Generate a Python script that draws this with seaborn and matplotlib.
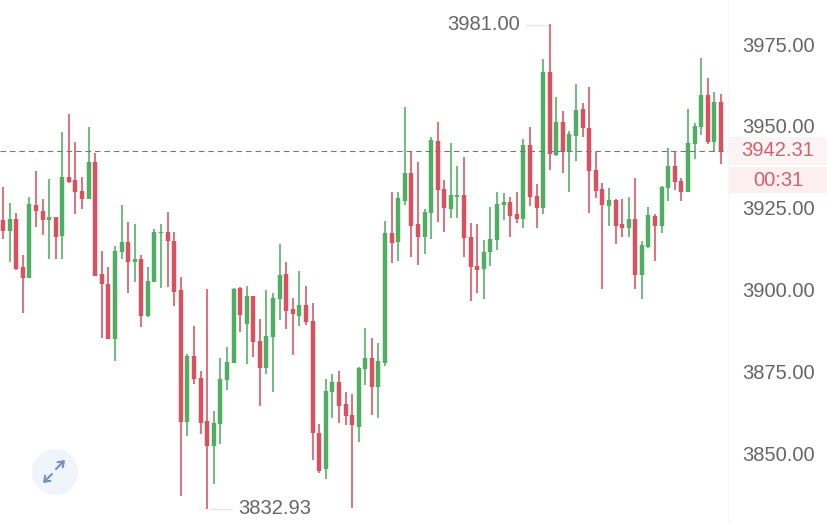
import pandas as pd
import seaborn as sns
import matplotlib.pyplot as plt
from matplotlib.patches import Circle, Rectangle

# prices, one entry per candle
open_prices = [3921.2, 3917.8, 3921.5, 3906.9, 3903.5, 3925.8, 3924.0, 3921.2, 3922.1, 3916.3,
               3934.4, 3933.4, 3930.1, 3927.6, 3938.9, 3904.7, 3901.6, 3884.8, 3911.4, 3914.5,
               3908.4, 3909.3, 3891.9, 3902.3, 3917.2, 3917.6, 3914.8, 3899.8, 3859.5, 3879.6,
               3872.9, 3859.8, 3852.1, 3858.9, 3872.3, 3877.5, 3900.4, 3889.4, 3898.0, 3884.2,
               3875.9, 3885.5, 3897.1, 3904.7, 3894.0, 3891.9, 3895.2, 3890.4, 3856.1, 3845.1,
               3868.6, 3871.7, 3865.0, 3861.6, 3858.0, 3875.7, 3879.0, 3870.2, 3877.5, 3917.2,
               3914.5, 3927.0, 3935.6, 3920.0, 3916.0, 3923.4, 3945.4, 3930.7, 3924.6, 3928.2,
               3928.8, 3916.0, 3907.2, 3906.2, 3911.4, 3915.1, 3925.8, 3926.7, 3923.0, 3921.5,
               3944.1, 3928.5, 3924.9, 3966.4, 3941.1, 3951.2, 3942.0, 3946.9, 3955.1, 3949.3,
               3936.5, 3930.7, 3925.5, 3927.3, 3920.0, 3918.8, 3921.5, 3904.4, 3913.0, 3922.4,
               3919.4, 3931.0, 3937.7, 3933.1, 3929.8, 3944.4, 3949.6, 3959.4, 3945.0, 3957.3]
close_prices = [3917.8, 3921.5, 3906.2, 3903.5, 3926.1, 3924.0, 3921.2, 3922.1, 3916.0, 3934.4,
                3932.8, 3929.8, 3927.6, 3938.9, 3904.1, 3901.6, 3884.8, 3911.7, 3914.5, 3908.4,
                3909.3, 3891.9, 3902.6, 3917.6, 3917.6, 3914.8, 3899.2, 3859.5, 3879.6, 3872.6,
                3859.2, 3852.1, 3859.2, 3872.6, 3877.8, 3900.1, 3892.2, 3898.0, 3883.9, 3875.9,
                3885.8, 3897.4, 3904.4, 3893.4, 3892.5, 3895.2, 3890.0, 3856.1, 3844.5, 3869.0,
                3871.7, 3864.4, 3861.3, 3858.6, 3876.0, 3879.0, 3870.2, 3878.1, 3917.2, 3914.2,
                3928.0, 3935.6, 3919.4, 3916.0, 3923.7, 3945.7, 3930.4, 3924.9, 3928.8, 3928.8,
                3915.7, 3906.9, 3905.9, 3911.4, 3915.4, 3926.1, 3926.7, 3922.4, 3921.5, 3944.1,
                3928.2, 3924.9, 3966.4, 3941.4, 3951.2, 3942.0, 3947.5, 3954.8, 3949.3, 3936.2,
                3930.1, 3925.8, 3927.3, 3919.4, 3918.8, 3921.5, 3904.4, 3913.6, 3922.7, 3919.4,
                3931.3, 3937.7, 3932.8, 3929.8, 3944.7, 3949.9, 3959.4, 3945.0, 3957.3, 3942.31]
high_prices = [3931.3, 3926.4, 3923.4, 3910.5, 3928.2, 3936.2, 3927.6, 3933.7, 3922.1, 3948.1,
               3953.6, 3945.0, 3934.4, 3949.6, 3941.7, 3911.7, 3906.9, 3913.3, 3925.8, 3920.6,
               3920.0, 3910.5, 3906.9, 3918.5, 3920.0, 3923.7, 3917.6, 3903.8, 3880.2, 3888.8,
               3875.1, 3900.1, 3862.8, 3879.0, 3882.4, 3900.4, 3900.7, 3901.0, 3898.0, 3890.9,
               3899.8, 3898.9, 3913.9, 3908.4, 3897.4, 3905.6, 3901.0, 3895.8, 3858.9, 3872.6,
               3874.1, 3875.1, 3868.6, 3868.0, 3876.3, 3888.2, 3885.1, 3883.6, 3920.9, 3929.8,
               3929.8, 3955.8, 3942.3, 3938.9, 3924.6, 3946.6, 3951.2, 3933.4, 3944.7, 3937.7,
               3940.5, 3920.3, 3920.0, 3915.1, 3925.2, 3929.8, 3929.5, 3928.2, 3929.8, 3946.0,
               3949.6, 3932.2, 3970.4, 3981.0, 3958.8, 3954.5, 3948.4, 3962.8, 3957.0, 3961.9,
               3942.0, 3932.5, 3931.0, 3927.6, 3927.6, 3928.2, 3934.0, 3914.8, 3925.2, 3923.0,
               3931.6, 3943.2, 3942.0, 3934.0, 3955.1, 3950.9, 3970.7, 3964.6, 3960.3, 3959.7]
low_prices = [3915.4, 3908.4, 3905.9, 3892.8, 3903.5, 3919.1, 3916.6, 3909.3, 3909.3, 3909.3,
              3932.5, 3923.0, 3924.6, 3927.6, 3904.1, 3885.1, 3884.8, 3878.1, 3909.3, 3898.9,
              3902.3, 3888.5, 3891.6, 3902.3, 3900.4, 3900.7, 3895.0, 3836.9, 3855.2, 3871.1,
              3855.8, 3832.93, 3840.5, 3852.8, 3869.3, 3877.5, 3887.0, 3877.2, 3879.3, 3864.4,
              3874.2, 3868.6, 3890.6, 3887.9, 3880.0, 3888.8, 3889.1, 3847.9, 3843.9, 3842.1,
              3860.7, 3859.2, 3858.6, 3833.2, 3853.4, 3870.8, 3861.6, 3860.7, 3876.6, 3908.1,
              3908.7, 3925.8, 3909.9, 3907.5, 3910.8, 3915.4, 3920.6, 3917.6, 3921.8, 3921.8,
              3909.9, 3896.5, 3898.9, 3897.1, 3907.2, 3912.0, 3921.2, 3916.0, 3920.3, 3918.8,
              3925.5, 3918.8, 3923.0, 3936.5, 3940.8, 3935.6, 3929.8, 3939.2, 3946.6, 3923.4,
              3927.9, 3900.1, 3919.4, 3913.9, 3916.0, 3916.0, 3900.1, 3897.1, 3912.7, 3908.7,
              3917.2, 3927.0, 3930.4, 3927.0, 3929.8, 3939.9, 3947.2, 3944.4, 3942.0, 3938.3]

y_ticks = [3850, 3875, 3900, 3925, 3950, 3975]
last_price = 3942.31
countdown = '00:31'
high_label = '3981.00'
low_label = '3832.93'

RED = '#D9505F'
GREEN = '#4FAE62'
TEXT = '#666666'
W, H = 828, 523

sns.set_theme(style='white')
plt.rcParams['font.family'] = ['Liberation Sans', 'DejaVu Sans']

df = pd.DataFrame({'idx': range(len(open_prices)), 'open': open_prices, 'close': close_prices,
                   'high': high_prices, 'low': low_prices})
df['direction'] = ['up' if c >= o else 'down' for o, c in zip(df['open'], df['close'])]
palette = {'up': GREEN, 'down': RED}

wicks = df.melt(id_vars=['idx', 'direction'], value_vars=['high', 'low'], value_name='price')
bodies = df.melt(id_vars=['idx', 'direction'], value_vars=['open', 'close'], value_name='price')

fig = plt.figure(figsize=(W / 100, H / 100), dpi=100)
ax = fig.add_axes([0, 0, 728 / W, 1])
ax.patch.set_visible(False)

sns.lineplot(data=wicks, x='idx', y='price', hue='direction', units='idx', estimator=None,
             palette=palette, linewidth=1.15, legend=False, ax=ax, solid_capstyle='butt')
sns.lineplot(data=bodies, x='idx', y='price', hue='direction', units='idx', estimator=None,
             palette=palette, linewidth=3.2, legend=False, ax=ax, solid_capstyle='butt')

ax.set_xlim(-0.455, 110.07)
ax.set_ylim(3828.61, 3988.45)
ax.set_xlabel('')
ax.set_ylabel('')
ax.set_xticks([])
ax.yaxis.tick_right()
ax.set_yticks(y_ticks)
ax.set_yticklabels([f'{t:.2f}' for t in y_ticks])
ax.tick_params(axis='y', length=0, pad=10, labelsize=14.5, labelcolor=TEXT)
sns.despine(ax=ax, left=True, top=True, bottom=True, right=False)
ax.spines['right'].set_color('#F6F6F6')
ax.spines['right'].set_linewidth(0.8)

# last price line and the two pink tags to the right of the plot
ax.axhline(last_price, color='#777777', linewidth=0.8, dashes=(5, 3.5))
fig.patches.append(Rectangle((728 / W, 1 - 165 / H), 100 / W, 28 / H, transform=fig.transFigure,
                             color='#FCF3F4', linewidth=0, zorder=-1))
fig.patches.append(Rectangle((728 / W, 1 - 193 / H), 100 / W, 26 / H, transform=fig.transFigure,
                             color='#FDEFF0', linewidth=0, zorder=-1))
fig.text(778 / W, 1 - 151 / H, f'{last_price:.2f}', color='#D3606F', fontsize=14.5, ha='center', va='center')
fig.text(778 / W, 1 - 180 / H, countdown, color='#D3606F', fontsize=14.5, ha='center', va='center')

# high / low labels with their leader lines
fig.text(520 / W, 1 - 25 / H, high_label, color=TEXT, fontsize=14.5, ha='right', va='center')
fig.add_artist(plt.Line2D([526 / W, 548 / W], [1 - 25 / H] * 2, color='#E6E6E6', linewidth=1))
fig.text(238 / W, 1 - 509 / H, low_label, color=TEXT, fontsize=14.5, ha='left', va='center')
fig.add_artist(plt.Line2D([210 / W, 232 / W], [1 - 509 / H] * 2, color='#E6E6E6', linewidth=1))

# expand button
fig.add_artist(Circle((55, H - 472), 23, transform=None, color='#F0F4FB', linewidth=0, zorder=-1))
arrow = dict(arrowstyle='->,head_length=0.3,head_width=0.22', color='#7391BF', linewidth=1.5,
             shrinkA=0, shrinkB=0)
ax.annotate('', xy=(65 / W, 1 - 460 / H), xytext=(56 / W, 1 - 469 / H),
            xycoords='figure fraction', textcoords='figure fraction', arrowprops=arrow)
ax.annotate('', xy=(43 / W, 1 - 483 / H), xytext=(52 / W, 1 - 474 / H),
            xycoords='figure fraction', textcoords='figure fraction', arrowprops=arrow)

fig.savefig('out.png', dpi=100)
